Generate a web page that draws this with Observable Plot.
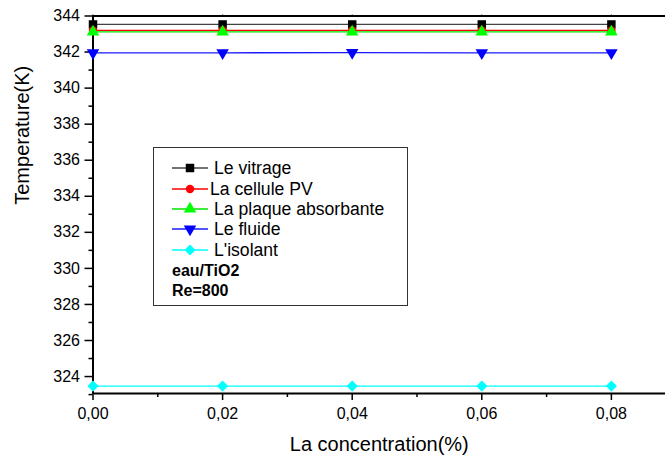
<!DOCTYPE html>
<html>
<head>
<meta charset="utf-8">
<script src="https://cdn.jsdelivr.net/npm/d3@7"></script>
<script src="https://cdn.jsdelivr.net/npm/@observablehq/plot@0.6"></script>
<style>
  html, body { margin: 0; padding: 0; background: #fff; }
  #wrap { position: relative; width: 665px; height: 459px; font-family: Arial, "Liberation Sans", sans-serif; }
  #legend { position: absolute; left: 153px; top: 147px; width: 255px; height: 159px;
            box-sizing: border-box; border: 1.5px solid #333; background: #fff; }
  .row { position: absolute; left: 0; height: 20px; display: flex; align-items: center; font-size: 17.6px; color: #000; white-space: nowrap; }
  .row svg { display: block; }
  .note { position: absolute; left: 18px; font-size: 16px; font-weight: bold; color: #000; }
</style>
</head>
<body>
<div id="wrap"></div>
<script>
// Nanofluid concentration (%) and the temperature of each layer (K)
const concentration = [0, 0.02, 0.04, 0.06, 0.08];
const vitrage  = [343.53, 343.53, 343.53, 343.53, 343.53];
const cellulePV = [343.2, 343.2, 343.2, 343.2, 343.2];
const plaque   = [343.12, 343.12, 343.12, 343.12, 343.12];
const fluide   = [341.96, 341.96, 341.97, 341.96, 341.96];
const isolant  = [323.47, 323.47, 323.47, 323.47, 323.47];

const seriesNames = ["Le vitrage", "La cellule PV", "La plaque absorbante", "Le fluide", "L'isolant"];
const seriesValues = [vitrage, cellulePV, plaque, fluide, isolant];
const lineColors = ["#444444", "#ff0000", "#00e000", "#1a1aff", "#00ffff"];
const markerColors = ["#000000", "#ff0000", "#00ff00", "#0000ff", "#00ffff"];

const yMajor = d3.range(324, 345, 2);
const yMinor = d3.range(323, 344, 2);
const xMajor = [0, 0.02, 0.04, 0.06, 0.08];
const xMinor = [0.01, 0.03, 0.05, 0.07];
const xDomain = [0, 0.08835];
const yDomain = [323.06, 344];

// downward-pointing triangle for the fluid series
const triangleDown = {
  draw(context, size) {
    const s = Math.sqrt(size / 0.433);
    const h = s * Math.sqrt(3) / 2;
    context.moveTo(-s / 2, -h / 3);
    context.lineTo(s / 2, -h / 3);
    context.lineTo(0, 2 * h / 3);
    context.closePath();
  }
};
const symbols = [d3.symbolSquare, d3.symbolCircle, d3.symbolTriangle, triangleDown, d3.symbolDiamond2];
const symbolSizes = [72, 56, 68, 68, 78];

const rows = seriesNames.flatMap((name, i) =>
  concentration.map((c, j) => ({series: name, i, c, t: seriesValues[i][j]})));

const fmtX = d => d.toFixed(2).replace(".", ",");

const marks = [];
seriesNames.forEach((name, i) => {
  const data = rows.filter(r => r.i === i);
  marks.push(Plot.line(data, {x: "c", y: "t", stroke: lineColors[i], strokeWidth: 1.3}));
  marks.push(Plot.dot(data, {x: "c", y: "t", symbol: () => symbols[i], fill: markerColors[i], stroke: "none", r: Math.sqrt(symbolSizes[i] / Math.PI)}));
});

const plot = Plot.plot({
  width: 665,
  height: 459,
  marginLeft: 92.5,
  marginRight: 0,
  marginTop: 15.5,
  marginBottom: 66,
  style: {fontFamily: "Arial, 'Liberation Sans', sans-serif", color: "#000", background: "transparent", overflow: "visible"},
  x: {domain: xDomain},
  y: {domain: yDomain},
  symbol: {type: "identity"},
  marks: [
    // minor ticks
    Plot.axisY({ticks: yMinor, tickSize: 4, tickFormat: () => "", label: null, strokeWidth: 1.5}),
    Plot.axisX({ticks: xMinor, tickSize: 4, tickFormat: () => "", label: null, strokeWidth: 1.5}),
    // major ticks and labels
    Plot.axisY({ticks: yMajor, tickSize: 8, tickPadding: 5, fontSize: 16, tickFormat: d => String(d), label: null, strokeWidth: 1.5}),
    Plot.axisX({ticks: xMajor, tickSize: 7, tickPadding: 7, fontSize: 16, tickFormat: fmtX, label: null, strokeWidth: 1.5}),
    Plot.axisX({ticks: xMajor, anchor: "top", tickSize: 2, tickFormat: () => "", label: null}),
    // axis lines
    Plot.ruleX([xDomain[0]], {stroke: "#000", strokeWidth: 2}),
    Plot.ruleY([yDomain[0]], {stroke: "#000", strokeWidth: 2}),
    Plot.ruleY([yDomain[1]], {stroke: "#000", strokeWidth: 2}),
    ...marks,
    // axis titles
    Plot.text(["La concentration(%)"], {frameAnchor: "bottom", dy: 57, fontSize: 20, text: d => d, fill: "#000"}),
    Plot.text(["Temperature(K)"], {frameAnchor: "left", dx: -70, rotate: -90, fontSize: 20, text: d => d, fill: "#000"})
  ]
});

const wrap = document.getElementById("wrap");
wrap.appendChild(plot);

// legend box
const legend = document.createElement("div");
legend.id = "legend";
wrap.appendChild(legend);
const rowCenters = [20, 41, 61, 81, 102];
seriesNames.forEach((name, i) => {
  const row = document.createElement("div");
  row.className = "row";
  row.style.top = (rowCenters[i] - 10) + "px";
  row.style.left = "18px";
  const svg = d3.create("svg").attr("width", i === 1 ? 38 : 42).attr("height", 20);
  svg.append("line").attr("x1", 0).attr("x2", 36).attr("y1", 10).attr("y2", 10)
    .attr("stroke", lineColors[i]).attr("stroke-width", 1.3);
  svg.append("path").attr("transform", "translate(18,10)")
    .attr("d", d3.symbol(symbols[i], symbolSizes[i])())
    .attr("fill", markerColors[i]);
  row.appendChild(svg.node());
  const label = document.createElement("span");
  label.textContent = name;
  row.appendChild(label);
  legend.appendChild(row);
});
const notes = ["eau/TiO2", "Re=800"];
[123, 143].forEach((top, k) => {
  const n = document.createElement("div");
  n.className = "note";
  n.style.top = (top - 9) + "px";
  n.textContent = notes[k];
  legend.appendChild(n);
});
</script>
</body>
</html>
